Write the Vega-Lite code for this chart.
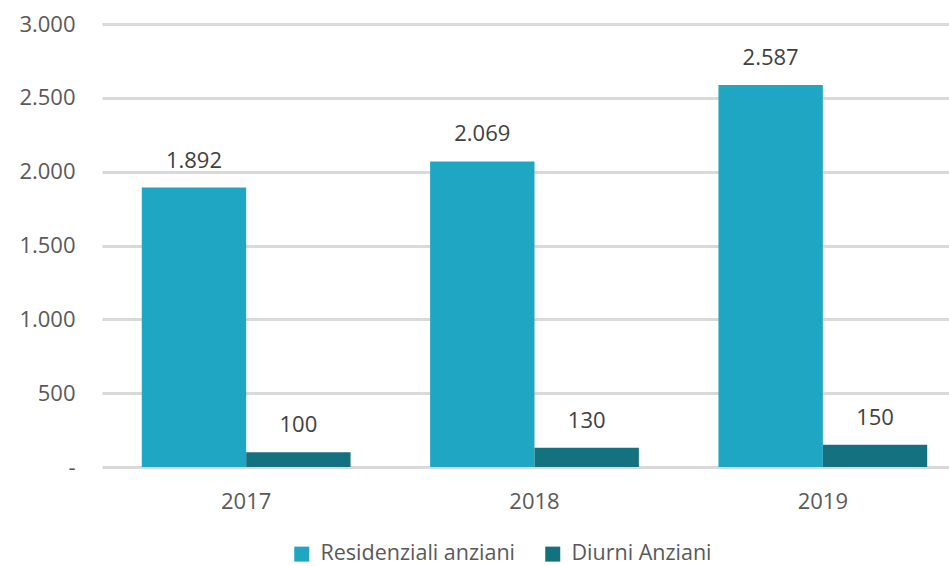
{
  "$schema": "https://vega.github.io/schema/vega-lite/v6.json",
  "width": 847,
  "height": 443,
  "autosize": {"type": "none"},
  "padding": {"left": 102, "top": 24, "right": 0, "bottom": 99},
  "background": "white",
  "config": {
    "locale": {"number": {"decimal": ",", "thousands": ".", "grouping": [3], "currency": ["€", ""]}},
    "font": "Open Sans",
    "view": {"stroke": null}
  },
  "data": {
    "values": [
      {"anno": "2017", "serie": "Residenziali anziani", "valore": 1892},
      {"anno": "2017", "serie": "Diurni Anziani", "valore": 100},
      {"anno": "2018", "serie": "Residenziali anziani", "valore": 2069},
      {"anno": "2018", "serie": "Diurni Anziani", "valore": 130},
      {"anno": "2019", "serie": "Residenziali anziani", "valore": 2587},
      {"anno": "2019", "serie": "Diurni Anziani", "valore": 150}
    ]
  },
  "encoding": {
    "x": {
      "field": "anno", "type": "nominal",
      "scale": {"range": [0, 865], "paddingInner": 0.276, "paddingOuter": 0.138},
      "axis": {"title": null, "labelAngle": 0, "domain": false, "ticks": false, "labelFontSize": 22, "labelColor": "#595959", "labelPadding": 24}
    },
    "xOffset": {"field": "serie", "type": "nominal", "sort": ["Residenziali anziani", "Diurni Anziani"], "scale": {"paddingInner": 0, "paddingOuter": 0}},
    "y": {
      "field": "valore", "type": "quantitative",
      "scale": {"domain": [0, 3000], "nice": false},
      "axis": {"title": null, "values": [0, 500, 1000, 1500, 2000, 2500, 3000], "domain": false, "ticks": false, "gridColor": "#d9d9d9", "gridWidth": 3, "labelFontSize": 22, "labelColor": "#595959", "labelPadding": 27, "format": ",d",
        "labelExpr": "datum.value == 0 ? '-' : datum.label",
        "encode": {"labels": {"update": {"dx": {"signal": "datum.value == 0 ? -12 : 0"}}}}}
    }
  },
  "layer": [
    {
      "mark": {"type": "bar"},
      "encoding": {
        "color": {
          "field": "serie", "type": "nominal",
          "sort": ["Residenziali anziani", "Diurni Anziani"],
          "scale": {"domain": ["Residenziali anziani", "Diurni Anziani"], "range": ["#1ea6c2", "#14717f"]},
          "legend": {"title": null, "orient": "none", "direction": "horizontal", "legendX": 189, "legendY": 519, "symbolType": "square", "symbolSize": 225, "symbolStrokeWidth": 0, "symbolOpacity": 1, "labelFontSize": 21.5, "labelColor": "#595959", "labelLimit": 0, "columnPadding": 26, "labelOffset": 8}
        }
      }
    },
    {
      "mark": {"type": "text", "fontSize": 22, "color": "#404040", "baseline": "alphabetic", "dy": -20},
      "encoding": {
        "text": {"field": "valore", "type": "quantitative", "format": ",d"}
      }
    }
  ]
}
